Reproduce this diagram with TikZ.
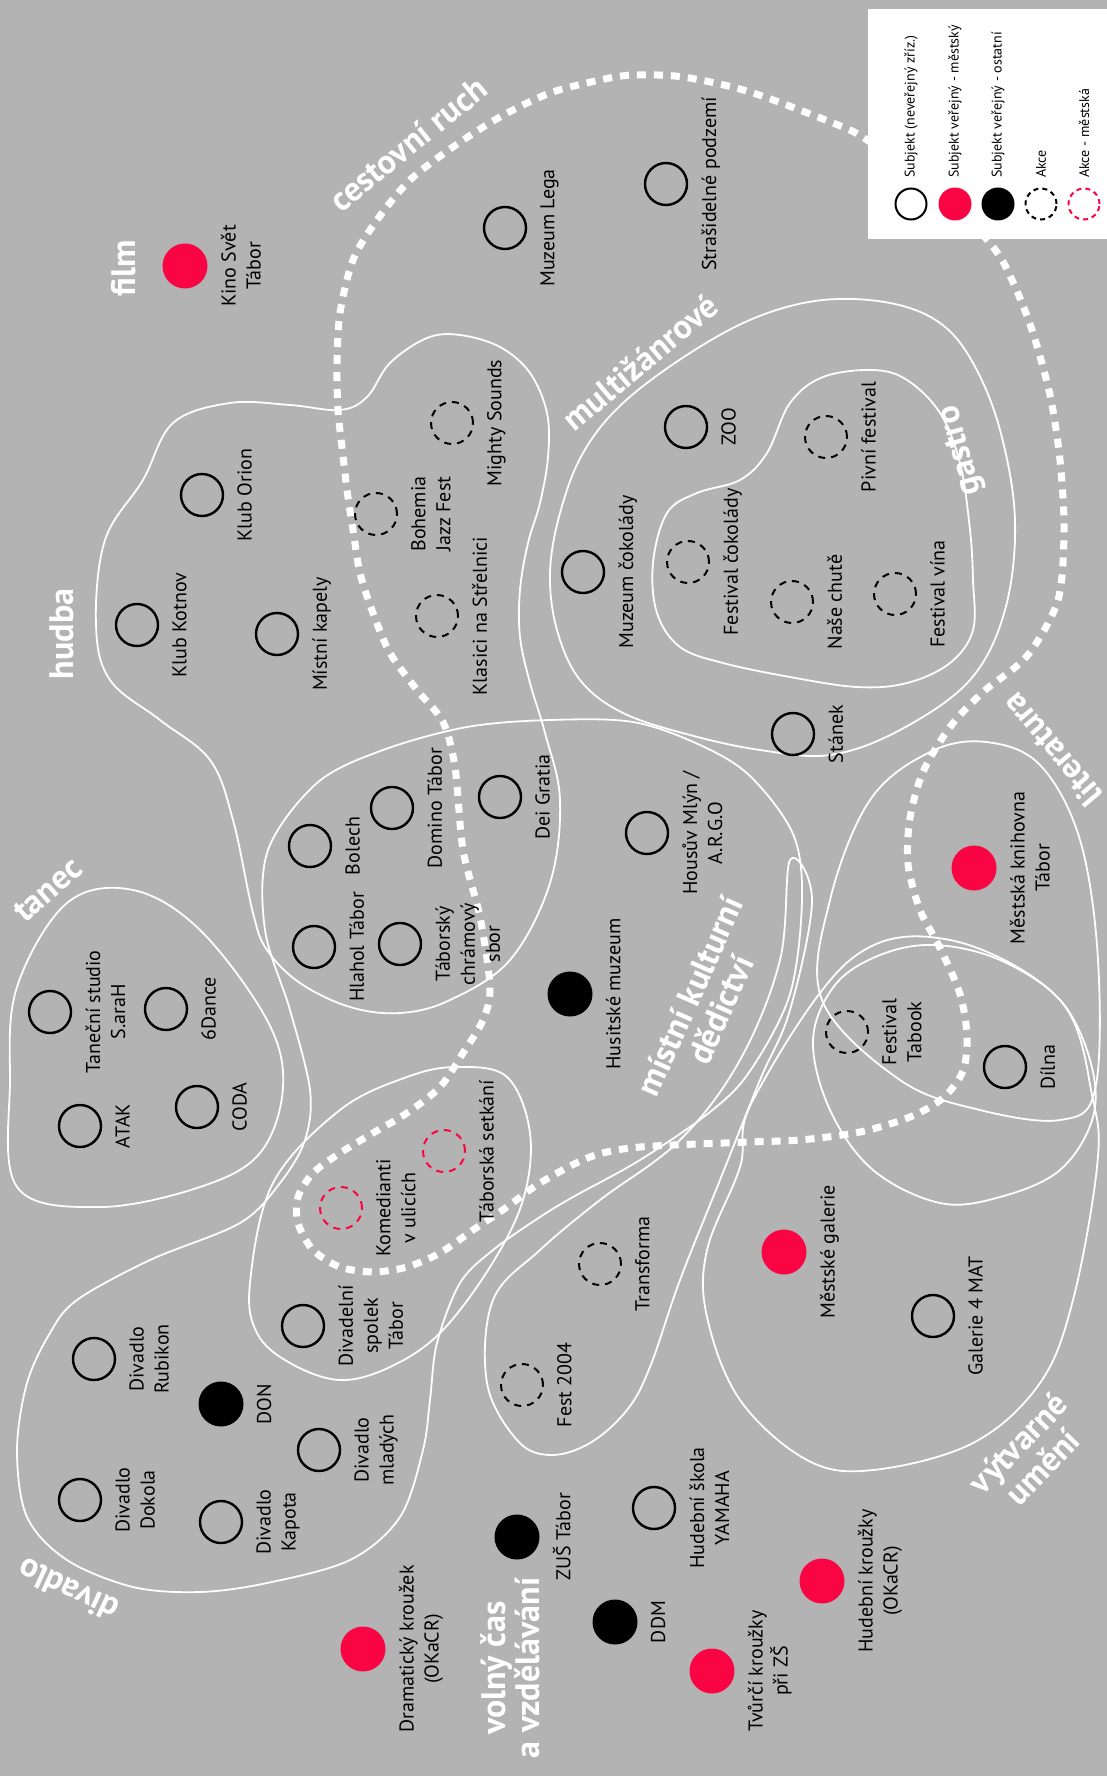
\documentclass[tikz,border=0pt]{standalone}
\usepackage{fontspec}
\setmainfont{PT Sans}
\usetikzlibrary{positioning, calc}
\definecolor{bgray}{HTML}{B3B3B3}
\definecolor{mred}{HTML}{FA0543}

\begin{document}
\begin{tikzpicture}[x=1pt, y=-1pt,
    subj/.style={circle, draw=black, line width=2.4pt, minimum size=42pt, inner sep=0pt},
    mesto/.style={circle, fill=mred, minimum size=45pt, inner sep=0pt},
    ostatni/.style={circle, fill=black, minimum size=45pt, inner sep=0pt},
    akce/.style={circle, draw=black, line width=2pt, dash pattern=on 7pt off 6pt, minimum size=42pt, inner sep=0pt},
    akcem/.style={akce, draw=mred},
    lbl/.style={rotate=90, anchor=north, align=center, inner sep=0pt, font=\fontsize{20}{25}\selectfont},
    leg/.style={rotate=90, anchor=west, inner sep=0pt, font=\fontsize{14}{16}\selectfont},
    kat/.style={text=white, align=center, inner sep=0pt, font=\fontsize{34}{34}\selectfont\bfseries},
    obrys/.style={draw=white, line width=1.8pt},
    hranice/.style={draw=white, line width=7pt, dash pattern=on 9pt off 8pt}]
  \fill[bgray] (0,0) rectangle (1107,1776);
  \useasboundingbox (0,0) rectangle (1107,1776);

  % blobs
  % hudba
  \draw[obrys] plot[smooth cycle, tension=0.6] coordinates {(96,625) (105,540) (143,480) (173,423) (230,403) (290,405) (340,410) (367,397) (390,363) (427,338) (460,335) (500,347) (530,373) (547,413) (548,457) (540,503) (528,543) (520,590) (520,637) (530,683) (545,733) (560,800) (550,883) (510,960) (450,1000) (400,1013) (350,1007) (300,983) (267,950) (253,913) (233,820) (210,760) (160,720) (110,680)};
  % multizanrove, gastro
  \draw[obrys] plot[smooth cycle, tension=0.6] coordinates {(550,573) (560,513) (583,453) (623,403) (690,353) (757,317) (823,300) (890,303) (940,323) (973,363) (1000,430) (1015,520) (1005,610) (970,680) (900,730) (830,755) (760,750) (690,735) (623,713) (580,680) (557,630)};
  \draw[obrys] plot[smooth cycle, tension=0.6] coordinates {(653,563) (667,513) (697,493) (740,480) (767,453) (790,403) (823,377) (873,370) (907,380) (940,413) (960,463) (970,530) (973,580) (973,630) (950,663) (907,683) (857,687) (790,677) (723,663) (680,647) (657,613)};
  % tanec
  \draw[obrys] plot[smooth cycle, tension=0.6] coordinates {(17,1187) (10,1080) (17,987) (67,903) (133,890) (200,930) (267,1020) (283,1087) (260,1153) (200,1187) (100,1207)};
  % mistni kulturni dedictvi / divadlo
  \draw[obrys] plot[smooth cycle, tension=0.55] coordinates {(317,783) (383,750) (467,727) (550,720) (633,722) (700,745) (750,776) (793,834) (802,899) (790,994) (750,1071) (710,1112) (640,1160) (573,1197) (540,1217) (493,1250) (460,1283) (437,1343) (430,1400) (423,1450) (400,1517) (350,1560) (267,1583) (200,1592) (133,1587) (67,1560) (27,1517) (17,1450) (27,1383) (50,1333) (77,1300) (150,1260) (240,1223) (280,1183) (305,1140) (310,1090) (290,1010) (265,930) (268,850)};
  % komedianti
  \draw[obrys] plot[smooth cycle, tension=0.6] coordinates {(250,1283) (273,1183) (340,1110) (407,1077) (457,1067) (507,1077) (530,1133) (523,1200) (490,1267) (440,1333) (390,1367) (340,1380) (290,1363) (257,1333)};
  % fest 2004, transforma
  \draw[obrys] plot[smooth cycle, tension=0.6] coordinates {(493,1300) (487,1383) (517,1440) (550,1455) (590,1443) (627,1410) (650,1367) (680,1280) (720,1180) (760,1080) (790,1010) (812,900) (790,860) (780,960) (740,1060) (680,1140) (600,1200) (540,1250)};
  % vytvarne umeni
  \draw[obrys] plot[smooth cycle, tension=0.6] coordinates {(753,1100) (740,1167) (707,1250) (707,1317) (740,1400) (807,1460) (873,1470) (973,1443) (1040,1383) (1073,1300) (1097,1167) (1093,1100) (1060,1000) (950,940) (850,960)};
  % literatura
  \draw[obrys] plot[smooth cycle, tension=0.6] coordinates {(813,1040) (835,985) (880,955) (935,945) (1000,960) (1060,1000) (1090,1060) (1093,1117) (1060,1170) (1000,1197) (940,1203) (873,1170) (830,1110)};
  \draw[obrys] plot[smooth cycle, tension=0.6] coordinates {(822,1000) (830,900) (870,800) (930,752) (986,742) (1040,765) (1080,840) (1098,960) (1095,1090) (1060,1120) (980,1110) (900,1080)};

  % cestovni ruch
  \draw[hranice] plot[smooth cycle, tension=0.5] coordinates {(1027,656) (1058,600) (1064,530) (1060,460) (1050,395) (1032,330) (1012,280) (993,247) (940,190) (867,140) (838,125) (750,92) (683,77) (633,75) (600,80) (550,93) (500,117) (453,147) (410,180) (377,220) (353,260) (340,313) (337,363) (338,410) (342,447) (347,490) (353,530) (360,573) (373,613) (390,653) (417,690) (443,722) (455,767) (463,850) (480,917) (490,987) (483,1020) (463,1053) (440,1087) (407,1113) (373,1133) (340,1153) (313,1173) (298,1197) (298,1223) (313,1250) (340,1267) (373,1272) (407,1267) (440,1253) (473,1230) (507,1207) (540,1183) (590,1157) (640,1147) (750,1142) (800,1140) (860,1132) (910,1117) (943,1098) (963,1071) (967,1036) (960,994) (940,948) (920,910) (908,864) (910,818) (923,772) (950,727) (983,692)};

  % legend
  \fill[white] (868,9) rectangle (1107,239);
  \node[subj, minimum size=31pt, line width=2pt] (lg1) at (911,204) {};
  \node[mesto, minimum size=33pt] (lg2) at (955,204) {};
  \node[ostatni, minimum size=33pt] (lg3) at (998,204) {};
  \node[akce, minimum size=31pt, dash pattern=on 5pt off 4pt] (lg4) at (1041,204) {};
  \node[akcem, minimum size=31pt, dash pattern=on 5pt off 4pt] (lg5) at (1084,204) {};
  \node[leg] (lg1-t) at (911,178) {Subjekt (neveřejný zříz.)};
  \node[leg] (lg2-t) at (955,178) {Subjekt veřejný - městský};
  \node[leg] (lg3-t) at (998,178) {Subjekt veřejný - ostatní};
  \node[leg] (lg4-t) at (1041,178) {Akce};
  \node[leg] (lg5-t) at (1084,178) {Akce - městská};

  % categories
  \node[kat, rotate=90] (k-film) at (124,268) {film};
  \node[kat, rotate=39] (k-cest) at (408,144) {cestovní ruch};
  \node[kat, rotate=90] (k-hudba) at (62,634) {hudba};
  \node[kat, rotate=40] (k-multi) at (640,362) {multižánrové};
  \node[kat, rotate=105] (k-gastro) at (962,450) {gastro};
  \node[kat, rotate=41] (k-tanec) at (48,890) {tanec};
  \node[kat, rotate=66] (k-dedic) at (705,1003) {místní kulturní\\dědictví};
  \node[kat, rotate=130] (k-lit) at (1052,750) {literatura};
  \node[kat, rotate=155] (k-divadlo) at (68,1590) {divadlo};
  \node[kat, rotate=46] (k-vytv) at (1030,1455) {výtvarné\\umění};
  \node[kat, rotate=90] (k-volny) at (510,1668) {volný čas\\a vzdělávání};

  % subjects and events
  \node[mesto] (kino) at (185,266) {};
  \node[lbl] (kino-t) at ([xshift=13pt]kino.east) {Kino Svět\\Tábor};
  \node[subj] (lega) at (505,228) {};
  \node[lbl] (lega-t) at ([xshift=13pt]lega.east) {Muzeum Lega};
  \node[subj] (strasidla) at (666,184) {};
  \node[lbl] (strasidla-t) at ([xshift=13pt]strasidla.east) {Strašidelné podzemí};
  \node[subj] (orion) at (202,495) {};
  \node[lbl] (orion-t) at ([xshift=13pt]orion.east) {Klub Orion};
  \node[subj] (kotnov) at (137,625) {};
  \node[lbl] (kotnov-t) at ([xshift=13pt]kotnov.east) {Klub Kotnov};
  \node[subj] (kapely) at (277,634) {};
  \node[lbl] (kapely-t) at ([xshift=13pt]kapely.east) {Místní kapely};
  \node[akce] (mighty) at (452,423) {};
  \node[lbl] (mighty-t) at ([xshift=13pt]mighty.east) {Mighty Sounds};
  \node[akce] (bohemia) at (376,514) {};
  \node[lbl] (bohemia-t) at ([xshift=13pt]bohemia.east) {Bohemia\\Jazz Fest};
  \node[akce] (klasici) at (437,616) {};
  \node[lbl] (klasici-t) at ([xshift=13pt]klasici.east) {Klasici na Střelnici};
  \node[subj] (cokomuz) at (583,572) {};
  \node[lbl] (cokomuz-t) at ([xshift=13pt]cokomuz.east) {Muzeum čokolády};
  \node[subj] (zoo) at (686,427) {};
  \node[lbl] (zoo-t) at ([xshift=13pt]zoo.east) {ZOO};
  \node[akce] (pivni) at (826,437) {};
  \node[lbl] (pivni-t) at ([xshift=13pt]pivni.east) {Pivní festival};
  \node[akce] (cokofest) at (688,562) {};
  \node[lbl] (cokofest-t) at ([xshift=13pt]cokofest.east) {Festival čokolády};
  \node[akce] (chute) at (792,602) {};
  \node[lbl] (chute-t) at ([xshift=13pt]chute.east) {Naše chutě};
  \node[akce] (vino) at (895,594) {};
  \node[lbl] (vino-t) at ([xshift=13pt]vino.east) {Festival vína};
  \node[subj] (stanek) at (793,734) {};
  \node[lbl] (stanek-t) at ([xshift=13pt]stanek.east) {Stánek};
  \node[subj] (bolech) at (310,846) {};
  \node[lbl] (bolech-t) at ([xshift=13pt]bolech.east) {Bolech};
  \node[subj] (domino) at (392,808) {};
  \node[lbl] (domino-t) at ([xshift=13pt]domino.east) {Domino Tábor};
  \node[subj] (dei) at (500,797) {};
  \node[lbl] (dei-t) at ([xshift=13pt]dei.east) {Dei Gratia};
  \node[subj] (housuv) at (647,833) {};
  \node[lbl] (housuv-t) at ([xshift=13pt]housuv.east) {Housův Mlýn /\\A.R.G.O};
  \node[subj] (hlahol) at (314,947) {};
  \node[lbl] (hlahol-t) at ([xshift=13pt]hlahol.east) {Hlahol Tábor};
  \node[subj] (chram) at (400,944) {};
  \node[lbl] (chram-t) at ([xshift=13pt]chram.east) {Táborský\\chrámový\\sbor};
  \node[ostatni] (husit) at (570,994) {};
  \node[lbl] (husit-t) at ([xshift=13pt]husit.east) {Husitské muzeum};
  \node[mesto] (knihovna) at (974,868) {};
  \node[lbl] (knihovna-t) at ([xshift=13pt]knihovna.east) {Městská knihovna\\Tábor};
  \node[akce] (tabook) at (847,1032) {};
  \node[lbl] (tabook-t) at ([xshift=13pt]tabook.east) {Festival\\Tabook};
  \node[subj] (dilna) at (1005,1067) {};
  \node[lbl] (dilna-t) at ([xshift=13pt]dilna.east) {Dílna};
  \node[subj] (sarah) at (50,1012) {};
  \node[lbl] (sarah-t) at ([xshift=13pt]sarah.east) {Taneční studio\\S.araH};
  \node[subj] (sixdance) at (166,1009) {};
  \node[lbl] (sixdance-t) at ([xshift=13pt]sixdance.east) {6Dance};
  \node[subj] (atak) at (80,1126) {};
  \node[lbl] (atak-t) at ([xshift=13pt]atak.east) {ATAK};
  \node[subj] (coda) at (197,1107) {};
  \node[lbl] (coda-t) at ([xshift=13pt]coda.east) {CODA};
  \node[akcem] (komedianti) at (341,1208) {};
  \node[lbl] (komedianti-t) at ([xshift=13pt]komedianti.east) {Komedianti\\v ulicích};
  \node[akcem] (setkani) at (444,1151) {};
  \node[lbl] (setkani-t) at ([xshift=13pt]setkani.east) {Táborská setkání};
  \node[subj] (spolek) at (303,1326) {};
  \node[lbl] (spolek-t) at ([xshift=13pt]spolek.east) {Divadelní\\spolek\\Tábor};
  \node[akce] (transforma) at (600,1264) {};
  \node[lbl] (transforma-t) at ([xshift=13pt]transforma.east) {Transforma};
  \node[akce] (fest) at (522,1385) {};
  \node[lbl] (fest-t) at ([xshift=13pt]fest.east) {Fest 2004};
  \node[mesto] (galerie) at (784,1252) {};
  \node[lbl] (galerie-t) at ([xshift=13pt]galerie.east) {Městské galerie};
  \node[subj] (mat) at (933,1316) {};
  \node[lbl] (mat-t) at ([xshift=13pt]mat.east) {Galerie 4 MAT};
  \node[subj] (rubikon) at (94,1359) {};
  \node[lbl] (rubikon-t) at ([xshift=13pt]rubikon.east) {Divadlo\\Rubikon};
  \node[ostatni] (don) at (221,1404) {};
  \node[lbl] (don-t) at ([xshift=13pt]don.east) {DON};
  \node[subj] (mladych) at (319,1450) {};
  \node[lbl] (mladych-t) at ([xshift=13pt]mladych.east) {Divadlo\\mladých};
  \node[subj] (dokola) at (80,1500) {};
  \node[lbl] (dokola-t) at ([xshift=13pt]dokola.east) {Divadlo\\Dokola};
  \node[subj] (kapota) at (221,1522) {};
  \node[lbl] (kapota-t) at ([xshift=13pt]kapota.east) {Divadlo\\Kapota};
  \node[mesto] (kruzek) at (363,1649) {};
  \node[lbl] (kruzek-t) at ([xshift=13pt]kruzek.east) {Dramatický kroužek\\(OKaCR)};
  \node[ostatni] (zus) at (517,1537) {};
  \node[lbl] (zus-t) at ([xshift=13pt]zus.east) {ZUŠ Tábor};
  \node[subj] (yamaha) at (654,1508) {};
  \node[lbl] (yamaha-t) at ([xshift=13pt]yamaha.east) {Hudební škola\\YAMAHA};
  \node[ostatni] (ddm) at (615,1622) {};
  \node[lbl] (ddm-t) at ([xshift=13pt]ddm.east) {DDM};
  \node[mesto] (hudkr) at (822,1581) {};
  \node[lbl] (hudkr-t) at ([xshift=13pt]hudkr.east) {Hudební kroužky\\(OKaCR)};
  \node[mesto] (tvurci) at (712,1671) {};
  \node[lbl] (tvurci-t) at ([xshift=13pt]tvurci.east) {Tvůrčí kroužky\\při ZŠ};
\end{tikzpicture}
\end{document}
